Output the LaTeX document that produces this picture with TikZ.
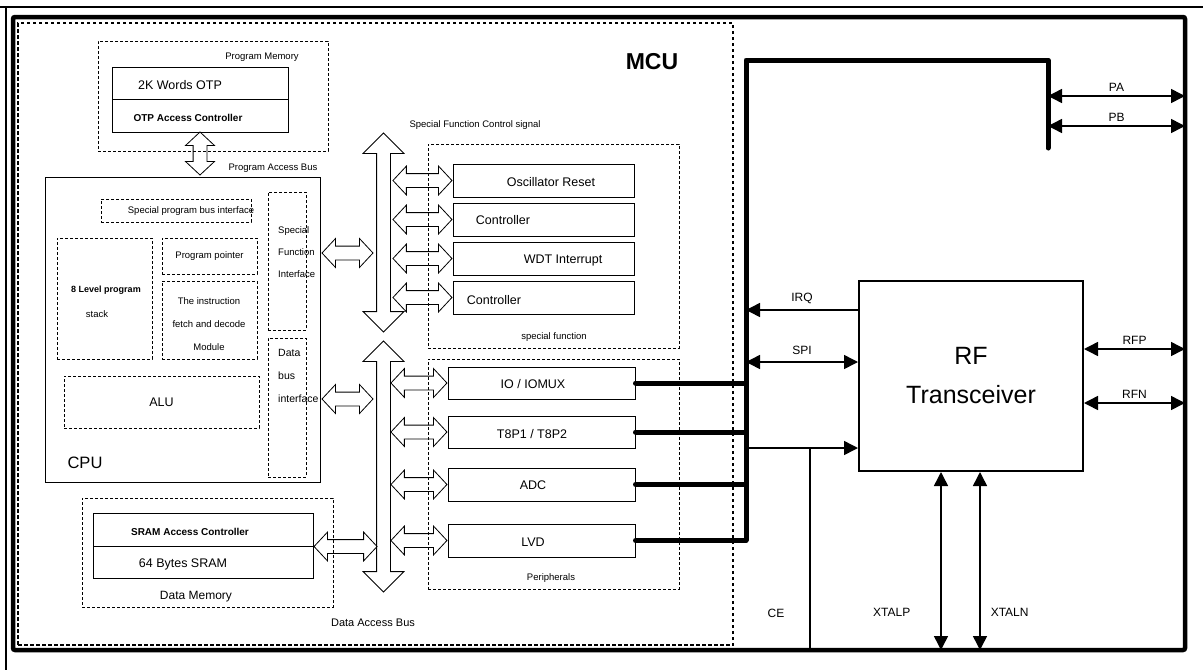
\documentclass[tikz,border=0pt]{standalone}
\usepackage{fontspec}
\setmainfont{Liberation Sans}
\usetikzlibrary{shapes.arrows, arrows.meta, positioning}

\begin{document}
\begin{tikzpicture}[
    x=1pt, y=-1pt,
    >={Triangle[length=14pt, width=14pt]},
    block/.style={rectangle, draw, line width=1pt, inner sep=0pt},
    group/.style={rectangle, draw, line width=0.8pt, dash pattern=on 3pt off 2pt, inner sep=0pt},
    note/.style={inner sep=0pt, font=\fontsize{9.5pt}{11pt}\selectfont},
    blocktext/.style={inner sep=0pt, font=\fontsize{12.5pt}{15pt}\selectfont},
    boldtext/.style={inner sep=0pt, font=\fontsize{10pt}{12pt}\selectfont\bfseries},
    sigtext/.style={inner sep=0pt, font=\fontsize{12pt}{14pt}\selectfont},
    hollow/.style={double arrow, draw, line width=0.8pt, inner xsep=0pt, inner ysep=6.5pt,
        double arrow head extend=7.5pt, double arrow tip angle=94, minimum height=#1},
    vbus/.style={double arrow, draw, line width=0.8pt, inner xsep=0pt, inner ysep=6.5pt,
        double arrow head extend=13.5pt, double arrow tip angle=90, rotate=90, minimum height=#1},
    wire/.style={line width=5pt, line cap=round, line join=round},
    sig/.style={line width=1.5pt}
]
    \useasboundingbox (0,0) rectangle (1203,670);

    % Frame
    \draw[line width=1.5pt] (0,7) -- (1203,7);
    \draw[line width=1.5pt] (6,7) -- (6,670);
    \node[rectangle, draw, line width=4.5pt, outer sep=0pt, rounded corners=2pt,
        minimum width=1172pt, minimum height=633pt] (frame) at (599,333.5) {};
    \node[rectangle, draw, line width=2.5pt, dash pattern=on 3.5pt off 2.5pt,
        minimum width=715pt, minimum height=622pt] (mcu) at (375.5,334) {};
    \node[inner sep=0pt, font=\fontsize{23pt}{27pt}\selectfont\bfseries] (mcutxt) at (652,62) {MCU};

    % Program memory
    \node[group, minimum width=230pt, minimum height=110pt] (pmem) at (213,96) {};
    \node[note] (pmemtxt) at (262,57) {Program Memory};
    \node[block, minimum width=176pt, minimum height=32pt] (otp) at (200,83) {};
    \node[blocktext] (otptxt) at (180,85) {2K Words OTP};
    \node[block, minimum width=176pt, minimum height=33pt] (otpctl) at (200,115.5) {};
    \node[boldtext] (otpctltxt) at (188,118) {OTP Access Controller};
    \node[hollow=43pt, rotate=90] (pabus) at (200,153.5) {};
    \node[note] (pabustxt) at (273,168) {Program Access Bus};

    % CPU
    \node[block, minimum width=275pt, minimum height=305pt] (cpu) at (182.5,329.5) {};
    \node[inner sep=0pt, font=\fontsize{16.5pt}{20pt}\selectfont] (cputxt) at (85,463) {CPU};
    \node[group, minimum width=150pt, minimum height=23pt] (spbi) at (176,210.5) {};
    \node[note] (spbitxt) at (191,211) {Special program bus interface};
    \node[group, minimum width=38pt, minimum height=138pt] (sfi) at (287,261) {};
    \node[note, font=\fontsize{9.5pt}{22pt}\selectfont, align=left, anchor=west] (sfitxt) at (278,252)
        {Special\\Function\\Interface};
    \node[group, minimum width=38pt, minimum height=139pt] (dbi) at (287,407.5) {};
    \node[note, font=\fontsize{10.5pt}{23pt}\selectfont, align=left, anchor=west] (dbitxt) at (278,376)
        {Data\\bus\\interface};
    \node[group, minimum width=95pt, minimum height=121pt] (stack) at (104.5,298.5) {};
    \node[inner sep=0pt, font=\fontsize{9pt}{11pt}\selectfont\bfseries] (stacktxt) at (106,290) {8 Level program};
    \node[note] (stacktxtb) at (97,314) {stack};
    \node[group, note, minimum width=95pt, minimum height=36pt] (pp) at (209.5,256) {Program pointer};
    \node[group, minimum width=95pt, minimum height=78pt] (ifd) at (209.5,320) {};
    \node[note, font=\fontsize{9.5pt}{23pt}\selectfont, align=center] (ifdtxt) at (209,324)
        {The instruction\\fetch and decode\\Module};
    \node[group, blocktext, minimum width=195pt, minimum height=52pt] (alu) at (161.5,402) {ALU};
    \node[hollow=51pt] (sfiarr) at (347.5,253) {};
    \node[hollow=51pt] (dbiarr) at (347.5,399) {};

    % Data memory
    \node[group, minimum width=251pt, minimum height=109pt] (dmem) at (207.5,552.5) {};
    \node[inner sep=0pt, font=\fontsize{12pt}{14pt}\selectfont] (dmemtxt) at (196,597) {Data Memory};
    \node[block, minimum width=220pt, minimum height=33pt] (sramctl) at (203,529.5) {};
    \node[boldtext] (sramctltxt) at (190,532) {SRAM Access Controller};
    \node[block, minimum width=220pt, minimum height=32pt] (sram) at (203,562) {};
    \node[blocktext] (sramtxt) at (183,564) {64 Bytes SRAM};
    \node[hollow=63pt, right=0pt of sramctl.south east] (sramarr) {};

    % Buses
    \node[vbus=199pt] (sfbus) at (383.5,232.5) {};
    \node[vbus=251pt] (dbus) at (383.5,466.5) {};
    \node[note] (sfbustxt) at (475,125) {Special Function Control signal};
    \node[inner sep=0pt, font=\fontsize{11pt}{13pt}\selectfont] (dbustxt) at (373,623) {Data Access Bus};

    % Special function
    \node[group, minimum width=251pt, minimum height=204pt] (sfgrp) at (553.5,246) {};
    \node[note] (sfgrptxt) at (554,337) {special function};
    \node[block, minimum width=181pt, minimum height=33pt] (osc) at (543.5,180.5) {};
    \node[blocktext] (osctxt) at (551,182) {Oscillator Reset};
    \node[block, minimum width=181pt, minimum height=33pt] (ctla) at (543.5,219.5) {};
    \node[blocktext] (ctlatxt) at (503,220) {Controller};
    \node[block, minimum width=181pt, minimum height=33pt] (wdt) at (543.5,258.5) {};
    \node[blocktext] (wdttxt) at (563,260) {WDT Interrupt};
    \node[block, minimum width=181pt, minimum height=33pt] (ctlb) at (543.5,297.5) {};
    \node[blocktext] (ctlbtxt) at (494,300) {Controller};
    \node[hollow=59pt, left=0pt of osc] (oscarr) {};
    \node[hollow=59pt, left=0pt of ctla] (ctlaarr) {};
    \node[hollow=59pt, left=0pt of wdt] (wdtarr) {};
    \node[hollow=59pt, left=0pt of ctlb] (ctlbarr) {};

    % Peripherals
    \node[group, minimum width=251pt, minimum height=230pt] (pergrp) at (553.5,474) {};
    \node[note] (pergrptxt) at (551,578) {Peripherals};
    \node[block, minimum width=187pt, minimum height=32pt] (io) at (541.5,383) {};
    \node[blocktext] (iotxt) at (533,384) {IO / IOMUX};
    \node[block, minimum width=187pt, minimum height=32pt] (t8) at (541.5,432) {};
    \node[blocktext] (t8txt) at (532,434) {T8P1 / T8P2};
    \node[block, minimum width=187pt, minimum height=33pt] (adc) at (541.5,484.5) {};
    \node[blocktext] (adctxt) at (533,485) {ADC};
    \node[block, minimum width=187pt, minimum height=33pt] (lvd) at (541.5,540.5) {};
    \node[blocktext] (lvdtxt) at (533,542) {LVD};
    \node[hollow=56pt, left=0pt of io] (ioarr) {};
    \node[hollow=56pt, left=0pt of t8] (t8arr) {};
    \node[hollow=56pt, left=0pt of adc] (adcarr) {};
    \node[hollow=56pt, left=0pt of lvd] (lvdarr) {};

    % Port bus
    \coordinate (bustop) at (746,60);
    \coordinate (busend) at (746,540);
    \coordinate (porttop) at (1048,60);
    \coordinate (portend) at (1048,148);
    \draw[wire] (busend) -- (bustop) -- (porttop) -- (portend);
    \draw[wire] (io.east) -- (io.east -| bustop);
    \draw[wire] (t8.east) -- (t8.east -| bustop);
    \draw[wire] (adc.east) -- (adc.east -| bustop);
    \draw[wire] (lvd.east) -- (lvd.east -| bustop);
    \draw[sig, <->] (porttop |- 0,96) -- (frame.east |- 0,96) node[sigtext, midway, above=4pt] {PA};
    \draw[sig, <->] (porttop |- 0,126) -- (frame.east |- 0,126) node[sigtext, midway, above=4pt] {PB};

    % RF transceiver
    \node[rectangle, draw, line width=2pt, minimum width=224pt, minimum height=190pt, align=center,
        font=\fontsize{25pt}{39pt}\selectfont] (rf) at (971,376) {RF\\Transceiver};
    \draw[sig, ->] (rf.west |- 0,310) -- (bustop |- 0,310) node[sigtext, midway, above=5pt] {IRQ};
    \draw[sig, <->] (bustop |- 0,362) -- (rf.west |- 0,362) node[sigtext, midway, above=7pt] {SPI};
    \draw[sig, ->] (bustop |- 0,448) -- (rf.west |- 0,448);
    \coordinate (cetap) at (810,448);
    \draw[sig] (cetap) -- (cetap |- frame.south) node[sigtext, pos=0.82, left=25pt] {CE};
    \draw[sig, <->] (941,0 |- rf.south) -- (941,0 |- frame.south) node[sigtext, pos=0.79, left=30pt] {XTALP};
    \draw[sig, <->] (980,0 |- rf.south) -- (980,0 |- frame.south) node[sigtext, pos=0.79, right=10pt] {XTALN};
    \draw[sig, <->] (rf.east |- 0,349) -- (frame.east |- 0,349) node[sigtext, midway, above=4pt] {RFP};
    \draw[sig, <->] (rf.east |- 0,403) -- (frame.east |- 0,403) node[sigtext, midway, above=4pt] {RFN};
\end{tikzpicture}
\end{document}
